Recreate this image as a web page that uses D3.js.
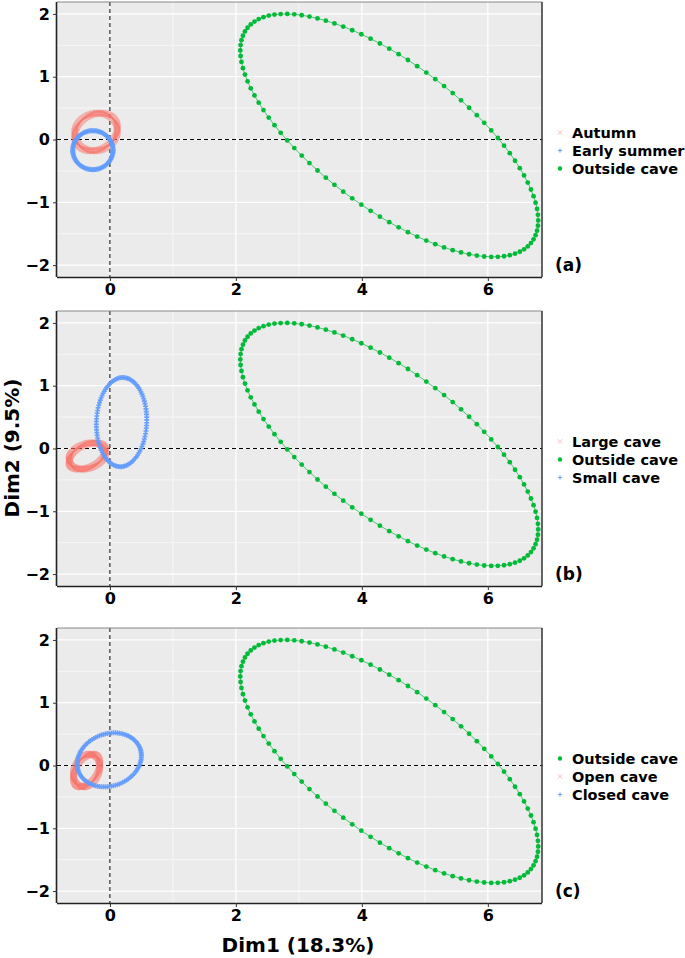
<!DOCTYPE html>
<html>
<head>
<meta charset="utf-8">
<script src="https://cdn.jsdelivr.net/npm/d3@7"></script>
<style>
  body { margin: 0; background: #fff; }
  text { font-family: "DejaVu Sans", sans-serif; font-weight: bold; fill: #000; }
</style>
</head>
<body>
<svg id="chart" width="685" height="958"></svg>
<script>
// panel tags and legend entries, in legend order
const panelTags = ["(a)", "(b)", "(c)"];
const groupsA = ["Autumn", "Early summer", "Outside cave"];
const groupsB = ["Large cave", "Outside cave", "Small cave"];
const groupsC = ["Outside cave", "Open cave", "Closed cave"];
// which marker / colour each entry uses
const kindsA = ["red", "blue", "green"];
const kindsB = ["red", "green", "blue"];
const kindsC = ["green", "red", "blue"];
// ellipses: [centre x, centre y, half width, half height, correlation]
const ellipsesA = [[-0.22, 0.12, 0.34, 0.30, 0.15], [-0.27, -0.17, 0.32, 0.31, 0.0], [4.435, 0.065, 2.365, 1.935, -0.70]];
const ellipsesB = [[-0.36, -0.12, 0.29, 0.21, 0.35], [4.435, 0.065, 2.365, 1.935, -0.70], [0.185, 0.42, 0.40, 0.71, 0.05]];
const ellipsesC = [[4.435, 0.065, 2.365, 1.935, -0.70], [-0.37, -0.08, 0.21, 0.26, 0.35], [-0.01, 0.09, 0.51, 0.43, 0.15]];
const nPoints = 100;

const xTicks = [0, 2, 4, 6];
const xMinor = [1, 3, 5];
const yTicks = [-2, -1, 0, 1, 2];
const yMinor = [-1.5, -0.5, 0.5, 1.5];

const colors = {red: "#F8766D", blue: "#619CFF", green: "#00BA38"};

const svg = d3.select("#chart");
const left = 57, right = 542, ph = 275;
const tops = [2, 311, 628];

const x = d3.scaleLinear().domain([-0.84, 6.86]).range([left, right]);

function ellipsePts(e) {
  const [cx, cy, hx, hy, r] = e;
  const pts = [];
  for (let i = 0; i < nPoints; i++) {
    const t = 2 * Math.PI * i / nPoints;
    pts.push([cx + hx * Math.cos(t), cy + hy * (r * Math.cos(t) + Math.sqrt(1 - r * r) * Math.sin(t))]);
  }
  return pts;
}

function drawMarker(g, kind, px, py, legend) {
  if (kind === "red") {
    const s = legend ? 2.2 : 3.2;
    g.append("path")
      .attr("d", `M${px - s},${py - s}L${px + s},${py + s}M${px - s},${py + s}L${px + s},${py - s}`)
      .attr("stroke", colors.red).attr("stroke-width", legend ? 0.9 : 1.1).attr("opacity", legend ? 0.55 : 0.6);
  } else if (kind === "blue") {
    const s = legend ? 2 : 2.5;
    g.append("path")
      .attr("d", `M${px - s},${py}L${px + s},${py}M${px},${py - s}L${px},${py + s}`)
      .attr("stroke", colors.blue).attr("stroke-width", legend ? 1.2 : 1.6).attr("opacity", 0.9);
  } else {
    g.append("circle").attr("cx", px).attr("cy", py).attr("r", legend ? 2.2 : 2.4)
      .attr("fill", colors.green);
  }
}

const allGroups = [groupsA, groupsB, groupsC];
const allKinds = [kindsA, kindsB, kindsC];
const allEllipses = [ellipsesA, ellipsesB, ellipsesC];

tops.forEach((top, p) => {
  const y = d3.scaleLinear().domain([-2.19, 2.19]).range([top + ph, top]);
  const g = svg.append("g").attr("id", "panel-" + p);

  g.append("rect").attr("x", left).attr("y", top).attr("width", right - left).attr("height", ph)
    .attr("fill", "#EBEBEB");

  // grid
  g.selectAll(".ymin").data(yMinor).join("line")
    .attr("x1", left).attr("x2", right).attr("y1", d => y(d)).attr("y2", d => y(d))
    .attr("stroke", "#fff").attr("stroke-width", 0.6);
  g.selectAll(".xmin").data(xMinor).join("line")
    .attr("y1", top).attr("y2", top + ph).attr("x1", d => x(d)).attr("x2", d => x(d))
    .attr("stroke", "#fff").attr("stroke-width", 0.6);
  g.selectAll(".ymaj").data(yTicks).join("line")
    .attr("x1", left).attr("x2", right).attr("y1", d => y(d)).attr("y2", d => y(d))
    .attr("stroke", "#fff").attr("stroke-width", 1.2);
  g.selectAll(".xmaj").data(xTicks).join("line")
    .attr("y1", top).attr("y2", top + ph).attr("x1", d => x(d)).attr("x2", d => x(d))
    .attr("stroke", "#fff").attr("stroke-width", 1.2);

  // reference lines
  g.append("line").attr("x1", left).attr("x2", right).attr("y1", y(0)).attr("y2", y(0))
    .attr("stroke", "#000").attr("stroke-width", 1).attr("stroke-dasharray", "4,3");
  g.append("line").attr("x1", x(0)).attr("x2", x(0)).attr("y1", top).attr("y2", top + ph)
    .attr("stroke", "#000").attr("stroke-width", 1).attr("stroke-dasharray", "4,3");

  // ellipses: green first, then red, blue on top
  const order = ["green", "red", "blue"];
  order.forEach(kind => {
    const idx = allKinds[p].indexOf(kind);
    const pts = ellipsePts(allEllipses[p][idx]);
    const eg = g.append("g");
    if (kind === "green") {
      eg.append("path")
        .attr("d", d3.line().x(d => x(d[0])).y(d => y(d[1])).curve(d3.curveLinearClosed)(pts))
        .attr("fill", "none").attr("stroke", colors.green).attr("stroke-width", 0.7);
    }
    pts.forEach(d => drawMarker(eg, kind, x(d[0]), y(d[1]), false));
  });

  // frame
  g.append("line").attr("x1", left).attr("x2", right).attr("y1", top).attr("y2", top)
    .attr("stroke", "#888").attr("stroke-width", 1);
  g.append("line").attr("x1", right).attr("x2", right).attr("y1", top).attr("y2", top + ph)
    .attr("stroke", "#333").attr("stroke-width", 1.5);

  // axes
  const yAxis = g.append("g").attr("transform", `translate(${left},0)`)
    .call(d3.axisLeft(y).tickValues(yTicks).tickSize(4).tickPadding(3).tickFormat(d3.format("d")));
  const xAxis = g.append("g").attr("transform", `translate(0,${top + ph})`)
    .call(d3.axisBottom(x).tickValues(xTicks).tickSize(4).tickPadding(3).tickFormat(d3.format("d")));
  [xAxis, yAxis].forEach(a => {
    a.select(".domain").attr("stroke", "#222").attr("stroke-width", 1.6);
    a.selectAll(".tick line").attr("stroke", "#333");
    a.selectAll("text").style("font-size", "16px").style("font-family", "DejaVu Sans")
      .style("font-weight", "bold").attr("fill", "#000");
  });
  yAxis.select(".domain").attr("d", `M-0.5,${top}V${top + ph}`);
  xAxis.select(".domain").attr("d", `M${left},0.5H${right}`);

  // legend
  const mid = top + ph / 2 + 11;
  allGroups[p].forEach((name, i) => {
    const ly = mid + (i - 1) * 18;
    drawMarker(g, allKinds[p][i], 560, ly, true);
    g.append("text").attr("x", 572).attr("y", ly + 5).style("font-size", "14.5px").text(name);
  });

  g.append("text").attr("x", 555).attr("y", top + ph - 6).style("font-size", "17px").text(panelTags[p]);
});

svg.append("text").attr("transform", "translate(19,448) rotate(-90)")
  .attr("text-anchor", "middle").style("font-size", "20px").text("Dim2 (9.5%)");
svg.append("text").attr("x", 298).attr("y", 952)
  .attr("text-anchor", "middle").style("font-size", "20px").text("Dim1 (18.3%)");
</script>
</body>
</html>
